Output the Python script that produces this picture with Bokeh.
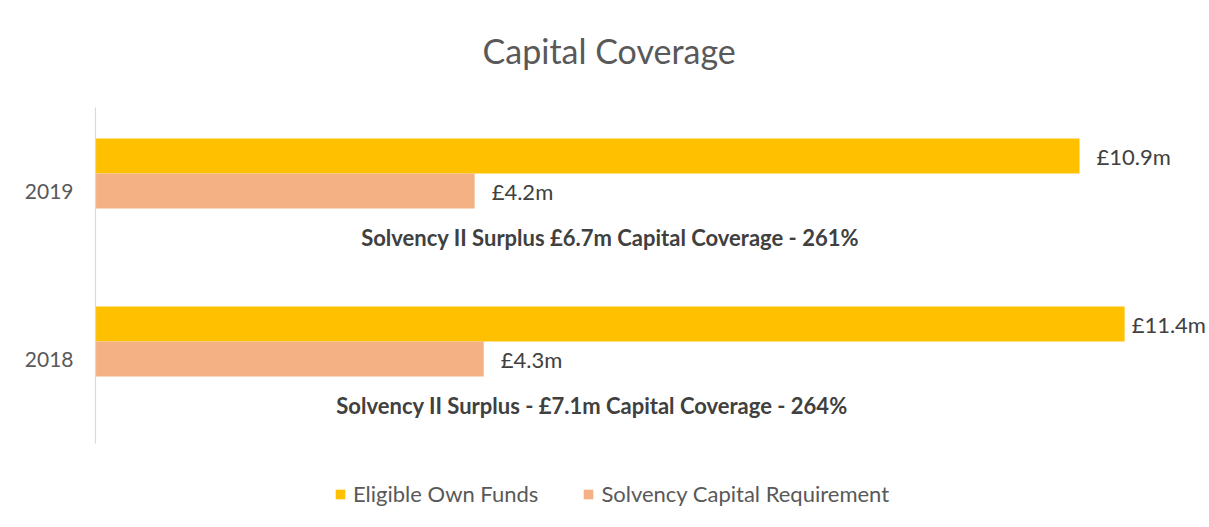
from bokeh.plotting import figure
from bokeh.models import (Range1d, ColumnDataSource, Legend, LegendItem, Label,
                          FixedTicker)
from bokeh.core.properties import value
from bokeh.embed import file_html
from bokeh.resources import INLINE

# ---- data ----
years = ["2018", "2019"]
eligible_own_funds = [11.4, 10.9]
solvency_capital_req = [4.3, 4.2]
eof_labels = ["£11.4m", "£10.9m"]
scr_labels = ["£4.3m", "£4.2m"]
annotations = ["Solvency II Surplus - £7.1m Capital Coverage - 264%",
               "Solvency II Surplus £6.7m Capital Coverage - 261%"]
series_names = ["Eligible Own Funds", "Solvency Capital Requirement"]
title_text = "Capital Coverage"

FONT = "Lato"
C_EOF = "#FFC000"
C_SCR = "#F4B183"

# category slots (one unit per year, centred at i + 0.5)
ypos = [i + 0.5 for i in range(len(years))]
src = ColumnDataSource(dict(
    yc=ypos,
    y_eof=[y + 0.211 for y in ypos],
    y_scr=[y + 0.003 for y in ypos],
    y_ann=[y - 0.275 for y in ypos],
    eof=eligible_own_funds, scr=solvency_capital_req,
    eof_lab=eof_labels, scr_lab=scr_labels, ann=annotations,
    eof_off=[7, 17],
    ann_x=[5.5, 5.7]))

n = len(years)
p = figure(width=1209, height=527, output_backend="svg", toolbar_location=None,
           x_range=Range1d(0, 12.34), y_range=Range1d(-0.5, n + 0.637),
           min_border_left=95, min_border_right=0, min_border_top=0, min_border_bottom=0)

r1 = p.hbar(y="y_eof", right="eof", left=0, height=0.208,
            source=src, fill_color=C_EOF, line_color=None)
r2 = p.hbar(y="y_scr", right="scr", left=0, height=0.208,
            source=src, fill_color=C_SCR, line_color=None)

p.text(x="eof", y="y_eof", text="eof_lab", source=src,
       x_offset="eof_off", text_baseline="middle", text_align="left",
       text_font=value(FONT), text_font_size="22px", text_color="#404040")
p.text(x="scr", y="y_scr", text="scr_lab", source=src,
       x_offset=17, text_baseline="middle", text_align="left",
       text_font=value(FONT), text_font_size="22px", text_color="#404040")
p.text(x="ann_x", y="y_ann", text="ann", source=src,
       text_baseline="middle", text_align="center", text_font_style="bold",
       text_font=value(FONT), text_font_size="22px", text_color="#404040")

# title
p.add_layout(Label(x=5.69, y=n + 0.339, text=title_text, text_align="center",
                   text_baseline="middle", text_font=FONT, text_font_size="34px",
                   text_color="#595959"))

p.xaxis.visible = False
p.xgrid.visible = False
p.ygrid.visible = False
p.outline_line_color = None

ax = p.yaxis[0]
ax.ticker = FixedTicker(ticks=ypos)
ax.major_label_overrides = {y: lab for y, lab in zip(ypos, years)}
ax.bounds = (0, n)
ax.axis_line_color = "#D9D9D9"
ax.axis_line_width = 1.2
ax.major_tick_line_color = None
ax.minor_tick_line_color = None
ax.major_label_text_font = FONT
ax.major_label_text_font_size = "21px"
ax.major_label_text_color = "#595959"
ax.major_label_standoff = 16

legend = Legend(items=[LegendItem(label=series_names[0], renderers=[r1]),
                       LegendItem(label=series_names[1], renderers=[r2])],
                orientation="horizontal", location=(239, 20),
                glyph_width=12, glyph_height=12, label_standoff=7, spacing=44,
                padding=0, margin=0, border_line_color=None, background_fill_alpha=0,
                label_text_font=FONT, label_text_font_size="22px",
                label_text_color="#595959")
p.add_layout(legend)

open("out.html", "w").write(file_html(p, INLINE))
